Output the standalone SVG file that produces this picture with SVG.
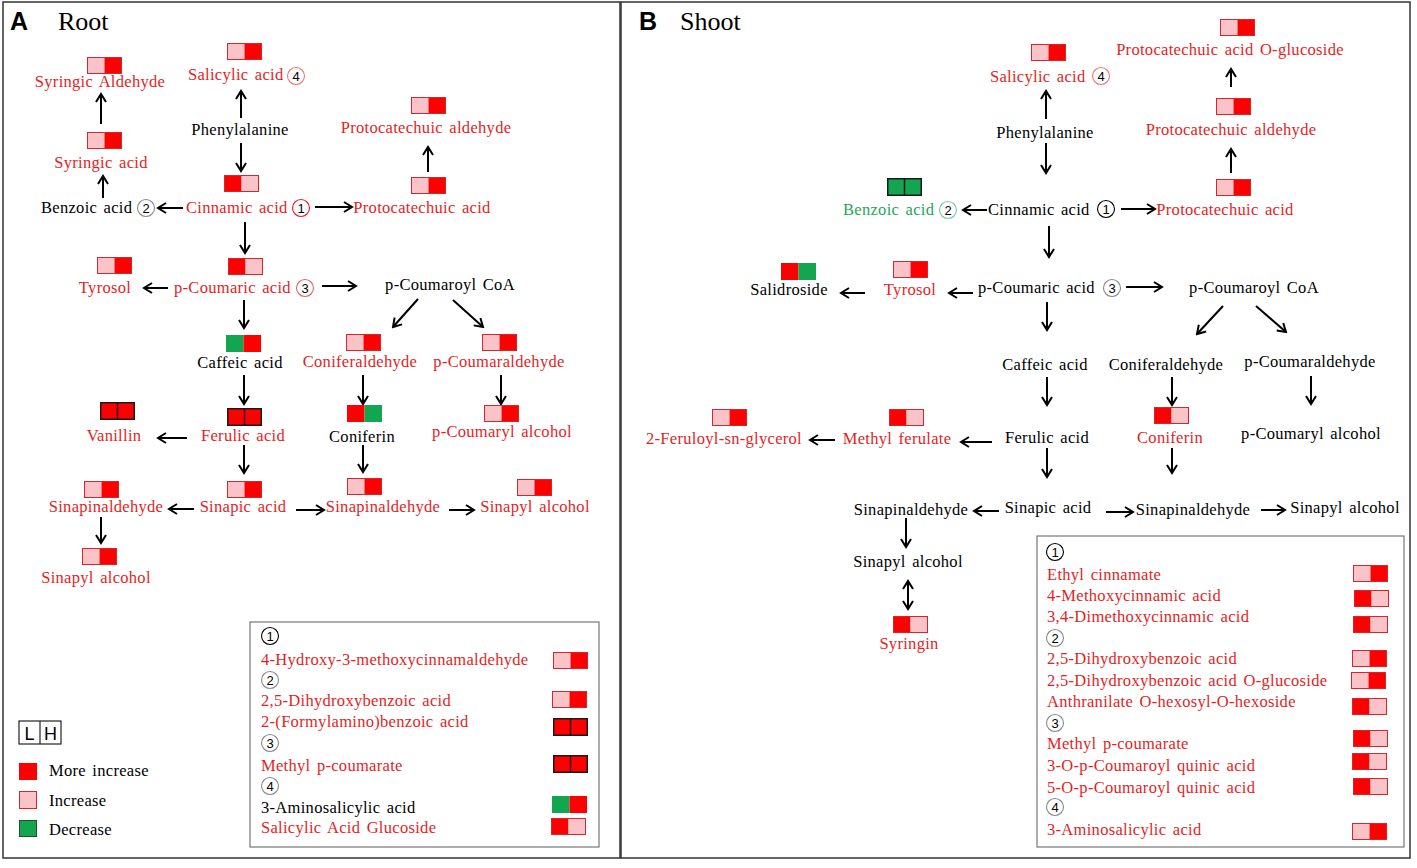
<svg xmlns="http://www.w3.org/2000/svg" xmlns:xlink="http://www.w3.org/1999/xlink" width="1417" height="868" viewBox="0 0 1417 868">
<style>
text{font-family:"Liberation Serif","Times New Roman",serif;font-size:16.5px;letter-spacing:0.3px;word-spacing:2px;fill:#000}
.r{fill:#E31E24}
.g{fill:#1FA65A}
.m{text-anchor:middle}
.cn circle{fill:none;stroke-width:1.1}
.cn text{font-family:"Liberation Sans",Arial,sans-serif;font-size:13px;letter-spacing:0;text-anchor:middle}
.ttl{font-family:"Liberation Sans",Arial,sans-serif;font-weight:bold;font-size:25px;letter-spacing:0}
.ttl2{font-size:26px;letter-spacing:0}
.lh{font-family:"Liberation Sans",Arial,sans-serif;font-size:18px;letter-spacing:0;text-anchor:middle}
.arr{stroke:#000;stroke-width:2;fill:none;marker-end:url(#ah)}
.panel{fill:none;stroke:#333;stroke-width:1.5}
.lbox{fill:none;stroke:#777;stroke-width:1.2}
</style>
<defs>
<marker id="ah" viewBox="-10 -7 12 14" refX="0" refY="0" markerWidth="12" markerHeight="14" markerUnits="userSpaceOnUse" orient="auto-start-reverse">
<path d="M-8,-5 L0,0 L-8,5" fill="none" stroke="#000" stroke-width="2"/>
</marker>
<g id="PR"><rect x="0" y="0" width="17.5" height="17" fill="#F9C3C8"/><rect x="17.5" y="0" width="17.5" height="17" fill="#FF0000"/><rect x="0.5" y="0.5" width="34" height="16" fill="none" stroke="#D0282D" stroke-width="1"/></g>
<g id="RP"><rect x="0" y="0" width="17.5" height="17" fill="#FF0000"/><rect x="17.5" y="0" width="17.5" height="17" fill="#F9C3C8"/><rect x="0.5" y="0.5" width="34" height="16" fill="none" stroke="#D0282D" stroke-width="1"/></g>
<g id="GR"><rect x="0" y="0" width="17.5" height="17" fill="#12A650"/><rect x="17.5" y="0" width="17.5" height="17" fill="#FF0000"/></g>
<g id="RG"><rect x="0" y="0" width="17.5" height="17" fill="#FF0000"/><rect x="17.5" y="0" width="17.5" height="17" fill="#12A650"/></g>
<g id="RRk"><rect x="0.75" y="0.75" width="33.5" height="16.5" fill="#FF0000" stroke="#1a1a1a" stroke-width="1.5"/><line x1="17.5" y1="0.75" x2="17.5" y2="17.25" stroke="#1a1a1a" stroke-width="1.5"/></g>
<g id="GGk"><rect x="0.75" y="0.75" width="33.5" height="16.5" fill="#12A650" stroke="#1a1a1a" stroke-width="1.5"/><line x1="17.5" y1="0.75" x2="17.5" y2="17.25" stroke="#1a1a1a" stroke-width="1.5"/></g>
</defs>
<rect x="0" y="0" width="1417" height="868" fill="#fff"/>

<g id="panel-frames">
<rect class="panel" x="3" y="2" width="617" height="856"/>
<rect class="panel" x="621" y="2" width="789" height="856"/>
<rect class="lbox" x="250" y="622" width="349" height="225"/>
<rect class="lbox" x="1037" y="536" width="367" height="311"/>
</g>

<g id="titles">
<text class="ttl" x="10" y="30">A</text>
<text class="ttl2" x="58" y="30">Root</text>
<text class="ttl" x="639" y="30">B</text>
<text class="ttl2" x="680" y="30">Shoot</text>
</g>

<g id="connectors">
<!-- Panel A -->
<line class="arr" x1="101" y1="124" x2="101" y2="94"/>
<line class="arr" x1="103" y1="198" x2="103" y2="176"/>
<line class="arr" x1="183" y1="208" x2="158" y2="208"/>
<line class="arr" x1="241" y1="118" x2="241" y2="91"/>
<line class="arr" x1="241" y1="143" x2="241" y2="171"/>
<line class="arr" x1="315" y1="207" x2="352" y2="207"/>
<line class="arr" x1="428" y1="172" x2="428" y2="147"/>
<line class="arr" x1="245" y1="222" x2="245" y2="253"/>
<line class="arr" x1="168" y1="288" x2="144" y2="288"/>
<line class="arr" x1="322" y1="286" x2="356" y2="286"/>
<line class="arr" x1="244" y1="300" x2="244" y2="328"/>
<line class="arr" x1="418" y1="299" x2="393" y2="327"/>
<line class="arr" x1="453" y1="300" x2="483" y2="327"/>
<line class="arr" x1="244" y1="375" x2="244" y2="404"/>
<line class="arr" x1="363" y1="375" x2="363" y2="404"/>
<line class="arr" x1="501" y1="375" x2="501" y2="404"/>
<line class="arr" x1="187" y1="438" x2="158" y2="438"/>
<line class="arr" x1="244" y1="445" x2="244" y2="473"/>
<line class="arr" x1="363" y1="445" x2="363" y2="472"/>
<line class="arr" x1="194" y1="509" x2="169" y2="509"/>
<line class="arr" x1="296" y1="510" x2="324" y2="510"/>
<line class="arr" x1="449" y1="510" x2="474" y2="510"/>
<line class="arr" x1="101" y1="517" x2="101" y2="543"/>
<!-- Panel B -->
<line class="arr" x1="1046" y1="119" x2="1046" y2="91"/>
<line class="arr" x1="1046" y1="143" x2="1046" y2="173"/>
<line class="arr" x1="987" y1="210" x2="963" y2="210"/>
<line class="arr" x1="1121" y1="209" x2="1155" y2="209"/>
<line class="arr" x1="1231" y1="173" x2="1231" y2="149"/>
<line class="arr" x1="1231" y1="87" x2="1231" y2="69"/>
<line class="arr" x1="1049" y1="226" x2="1049" y2="257"/>
<line class="arr" x1="973" y1="293" x2="949" y2="293"/>
<line class="arr" x1="865" y1="293" x2="841" y2="293"/>
<line class="arr" x1="1126" y1="287" x2="1162" y2="287"/>
<line class="arr" x1="1047" y1="302" x2="1047" y2="330"/>
<line class="arr" x1="1223" y1="306" x2="1197" y2="334"/>
<line class="arr" x1="1256" y1="306" x2="1286" y2="332"/>
<line class="arr" x1="1047" y1="377" x2="1047" y2="405"/>
<line class="arr" x1="1172" y1="377" x2="1172" y2="405"/>
<line class="arr" x1="1311" y1="376" x2="1311" y2="404"/>
<line class="arr" x1="992" y1="442" x2="961" y2="442"/>
<line class="arr" x1="835" y1="440" x2="810" y2="440"/>
<line class="arr" x1="1047" y1="448" x2="1047" y2="477"/>
<line class="arr" x1="1172" y1="448" x2="1172" y2="473"/>
<line class="arr" x1="999" y1="511" x2="974" y2="511"/>
<line class="arr" x1="1106" y1="512" x2="1133" y2="512"/>
<line class="arr" x1="1261" y1="510" x2="1285" y2="510"/>
<line class="arr" x1="906" y1="518" x2="906" y2="547"/>
<line class="arr" x1="908" y1="581" x2="908" y2="609" style="marker-start:url(#ah)"/>
</g>

<!-- Panel A nodes -->
<g id="A-syringic-aldehyde"><use xlink:href="#PR" x="87" y="57"/><text class="r m" x="100" y="87">Syringic Aldehyde</text></g>
<g id="A-syringic-acid"><use xlink:href="#PR" x="87" y="132"/><text class="r m" x="101" y="168">Syringic acid</text></g>
<g id="A-benzoic-acid"><text x="41" y="213">Benzoic acid</text><g class="cn"><circle cx="146" cy="208" r="8.5" stroke="#888"/><text x="146" y="212.5" fill="#666">2</text></g></g>
<g id="A-salicylic-acid"><use xlink:href="#PR" x="227" y="43"/><text class="r" x="188" y="80">Salicylic acid</text><g class="cn"><circle cx="296" cy="76" r="8.5" stroke="#EE7777"/><text x="296" y="80.5" fill="#EE7777">4</text></g></g>
<g id="A-phenylalanine"><text class="m" x="240" y="135">Phenylalanine</text></g>
<g id="A-cinnamic-acid"><use xlink:href="#RP" x="224" y="175"/><text class="r" x="186" y="213">Cinnamic acid</text><g class="cn"><circle cx="301" cy="208" r="8.5" stroke="#E31E24"/><text x="301" y="212.5" fill="#E31E24">1</text></g></g>
<g id="A-protocatechuic-aldehyde"><use xlink:href="#PR" x="411" y="97"/><text class="r m" x="426" y="133">Protocatechuic aldehyde</text></g>
<g id="A-protocatechuic-acid"><use xlink:href="#PR" x="411" y="177"/><text class="r m" x="422" y="213">Protocatechuic acid</text></g>
<g id="A-tyrosol"><use xlink:href="#PR" x="97" y="257"/><text class="r m" x="105" y="293">Tyrosol</text></g>
<g id="A-p-coumaric-acid"><use xlink:href="#RP" x="228" y="258"/><text class="r" x="174" y="293">p-Coumaric acid</text><g class="cn"><circle cx="305" cy="288" r="8.5" stroke="#E86060"/><text x="305" y="292.5" fill="#E86060">3</text></g></g>
<g id="A-p-coumaroyl-coa"><text class="m" x="450" y="290">p-Coumaroyl CoA</text></g>
<g id="A-caffeic-acid"><use xlink:href="#GR" x="226" y="335"/><text class="m" x="240" y="368">Caffeic acid</text></g>
<g id="A-coniferaldehyde"><use xlink:href="#PR" x="346" y="334"/><text class="r m" x="360" y="367">Coniferaldehyde</text></g>
<g id="A-p-coumaraldehyde"><use xlink:href="#PR" x="482" y="334"/><text class="r m" x="499" y="367">p-Coumaraldehyde</text></g>
<g id="A-vanillin"><use xlink:href="#RRk" x="100" y="402"/><text class="r m" x="114" y="441">Vanillin</text></g>
<g id="A-ferulic-acid"><use xlink:href="#RRk" x="227" y="408"/><text class="r m" x="243" y="441">Ferulic acid</text></g>
<g id="A-coniferin"><use xlink:href="#RG" x="347" y="405"/><text class="m" x="362" y="442">Coniferin</text></g>
<g id="A-p-coumaryl-alcohol"><use xlink:href="#PR" x="484" y="405"/><text class="r m" x="502" y="437">p-Coumaryl alcohol</text></g>
<g id="A-sinapinaldehyde-1"><use xlink:href="#PR" x="84" y="481"/><text class="r m" x="106" y="512">Sinapinaldehyde</text></g>
<g id="A-sinapic-acid"><use xlink:href="#PR" x="227" y="481"/><text class="r m" x="243" y="512">Sinapic acid</text></g>
<g id="A-sinapinaldehyde-2"><use xlink:href="#PR" x="347" y="478"/><text class="r m" x="383" y="512">Sinapinaldehyde</text></g>
<g id="A-sinapyl-alcohol-2"><use xlink:href="#PR" x="517" y="479"/><text class="r m" x="535" y="512">Sinapyl alcohol</text></g>
<g id="A-sinapyl-alcohol-1"><use xlink:href="#PR" x="82" y="548"/><text class="r m" x="96" y="583">Sinapyl alcohol</text></g>

<g id="A-key">
<rect x="19" y="721" width="42" height="23" fill="#fff" stroke="#222" stroke-width="1.2"/>
<line x1="40" y1="721" x2="40" y2="744" stroke="#222" stroke-width="1.2"/>
<text class="lh" x="29.5" y="740">L</text>
<text class="lh" x="50.5" y="740">H</text>
<rect x="19" y="763" width="18" height="17" fill="#FF0000"/>
<text x="49" y="776">More increase</text>
<rect x="19.5" y="791.5" width="17" height="17" fill="#F9C3C8" stroke="#D0282D"/>
<text x="49" y="806">Increase</text>
<rect x="19.5" y="820.5" width="17" height="16" fill="#12A650" stroke="#2a4a34"/>
<text x="49" y="835">Decrease</text>
</g>

<g id="A-legend">
<g class="cn"><circle cx="270" cy="636" r="8.5" stroke="#000"/><text x="270" y="640.5">1</text></g>
<text class="r" x="261" y="665">4-Hydroxy-3-methoxycinnamaldehyde</text><use xlink:href="#PR" x="553" y="652"/>
<g class="cn"><circle cx="270" cy="680" r="8.5" stroke="#888"/><text x="270" y="684.5" fill="#666">2</text></g>
<text class="r" x="261" y="706">2,5-Dihydroxybenzoic acid</text><use xlink:href="#PR" x="552" y="691"/>
<text class="r" x="261" y="727">2-(Formylamino)benzoic acid</text><use xlink:href="#RRk" x="553" y="718"/>
<g class="cn"><circle cx="270" cy="743" r="8.5" stroke="#888"/><text x="270" y="747.5" fill="#666">3</text></g>
<text class="r" x="261" y="771">Methyl p-coumarate</text><use xlink:href="#RRk" x="553" y="755"/>
<g class="cn"><circle cx="270" cy="786" r="8.5" stroke="#888"/><text x="270" y="790.5" fill="#666">4</text></g>
<text x="261" y="813">3-Aminosalicylic acid</text><use xlink:href="#GR" x="552" y="796"/>
<text class="r" x="261" y="833">Salicylic Acid Glucoside</text><use xlink:href="#RP" x="551" y="818"/>
</g>

<!-- Panel B nodes -->
<g id="B-salicylic-acid"><use xlink:href="#PR" x="1031" y="44"/><text class="r" x="990" y="82">Salicylic acid</text><g class="cn"><circle cx="1101" cy="76" r="8.5" stroke="#EE7777"/><text x="1101" y="80.5" fill="#EE7777">4</text></g></g>
<g id="B-phenylalanine"><text class="m" x="1045" y="138">Phenylalanine</text></g>
<g id="B-cinnamic-acid"><text x="988" y="215">Cinnamic acid</text><g class="cn"><circle cx="1106" cy="209" r="8.5" stroke="#000"/><text x="1106" y="213.5">1</text></g></g>
<g id="B-protocatechuic-acid-o-glucoside"><use xlink:href="#PR" x="1220" y="19"/><text class="r m" x="1230" y="55">Protocatechuic acid O-glucoside</text></g>
<g id="B-protocatechuic-aldehyde"><use xlink:href="#PR" x="1216" y="98"/><text class="r m" x="1231" y="135">Protocatechuic aldehyde</text></g>
<g id="B-protocatechuic-acid"><use xlink:href="#PR" x="1216" y="179"/><text class="r m" x="1225" y="215">Protocatechuic acid</text></g>
<g id="B-benzoic-acid"><use xlink:href="#GGk" x="887" y="178"/><text class="g" x="843" y="215">Benzoic acid</text><g class="cn"><circle cx="948" cy="210" r="8.5" stroke="#7CC899"/><text x="948" y="214.5" fill="#5DB880">2</text></g></g>
<g id="B-salidroside"><use xlink:href="#RG" x="781" y="263"/><text class="m" x="789" y="295">Salidroside</text></g>
<g id="B-tyrosol"><use xlink:href="#PR" x="893" y="261"/><text class="r m" x="910" y="295">Tyrosol</text></g>
<g id="B-p-coumaric-acid"><text x="978" y="293">p-Coumaric acid</text><g class="cn"><circle cx="1112" cy="288" r="8.5" stroke="#888"/><text x="1112" y="292.5" fill="#666">3</text></g></g>
<g id="B-p-coumaroyl-coa"><text class="m" x="1254" y="293">p-Coumaroyl CoA</text></g>
<g id="B-caffeic-acid"><text class="m" x="1045" y="370">Caffeic acid</text></g>
<g id="B-coniferaldehyde"><text class="m" x="1166" y="370">Coniferaldehyde</text></g>
<g id="B-p-coumaraldehyde"><text class="m" x="1310" y="367">p-Coumaraldehyde</text></g>
<g id="B-ferulic-acid"><text class="m" x="1047" y="443">Ferulic acid</text></g>
<g id="B-coniferin"><use xlink:href="#RP" x="1154" y="407"/><text class="r m" x="1170" y="443">Coniferin</text></g>
<g id="B-p-coumaryl-alcohol"><text class="m" x="1311" y="439">p-Coumaryl alcohol</text></g>
<g id="B-2-feruloyl-sn-glycerol"><use xlink:href="#PR" x="712" y="409"/><text class="r m" x="724" y="444">2-Feruloyl-sn-glycerol</text></g>
<g id="B-methyl-ferulate"><use xlink:href="#RP" x="889" y="409"/><text class="r m" x="897" y="444">Methyl ferulate</text></g>
<g id="B-sinapinaldehyde-1"><text class="m" x="911" y="515">Sinapinaldehyde</text></g>
<g id="B-sinapic-acid"><text class="m" x="1048" y="513">Sinapic acid</text></g>
<g id="B-sinapinaldehyde-2"><text class="m" x="1193" y="515">Sinapinaldehyde</text></g>
<g id="B-sinapyl-alcohol-2"><text class="m" x="1345" y="513">Sinapyl alcohol</text></g>
<g id="B-sinapyl-alcohol-1"><text class="m" x="908" y="567">Sinapyl alcohol</text></g>
<g id="B-syringin"><use xlink:href="#RP" x="893" y="616"/><text class="r m" x="909" y="649">Syringin</text></g>

<g id="B-legend">
<g class="cn"><circle cx="1055" cy="552" r="8.5" stroke="#000"/><text x="1055" y="556.5">1</text></g>
<text class="r" x="1047" y="580">Ethyl cinnamate</text><use xlink:href="#PR" x="1353" y="565"/>
<text class="r" x="1047" y="601">4-Methoxycinnamic acid</text><use xlink:href="#RP" x="1354" y="590"/>
<text class="r" x="1047" y="622">3,4-Dimethoxycinnamic acid</text><use xlink:href="#RP" x="1353" y="616"/>
<g class="cn"><circle cx="1055" cy="638" r="8.5" stroke="#888"/><text x="1055" y="642.5" fill="#666">2</text></g>
<text class="r" x="1047" y="664">2,5-Dihydroxybenzoic acid</text><use xlink:href="#PR" x="1352" y="650"/>
<text class="r" x="1047" y="686">2,5-Dihydroxybenzoic acid O-glucoside</text><use xlink:href="#PR" x="1351" y="672"/>
<text class="r" x="1047" y="707">Anthranilate O-hexosyl-O-hexoside</text><use xlink:href="#RP" x="1352" y="698"/>
<g class="cn"><circle cx="1055" cy="723" r="8.5" stroke="#888"/><text x="1055" y="727.5" fill="#666">3</text></g>
<text class="r" x="1047" y="749">Methyl p-coumarate</text><use xlink:href="#RP" x="1353" y="730"/>
<text class="r" x="1047" y="771">3-O-p-Coumaroyl quinic acid</text><use xlink:href="#RP" x="1352" y="753"/>
<text class="r" x="1047" y="793">5-O-p-Coumaroyl quinic acid</text><use xlink:href="#RP" x="1353" y="778"/>
<g class="cn"><circle cx="1055" cy="807" r="8.5" stroke="#888"/><text x="1055" y="811.5" fill="#666">4</text></g>
<text class="r" x="1047" y="835">3-Aminosalicylic acid</text><use xlink:href="#PR" x="1352" y="823"/>
</g>
</svg>
